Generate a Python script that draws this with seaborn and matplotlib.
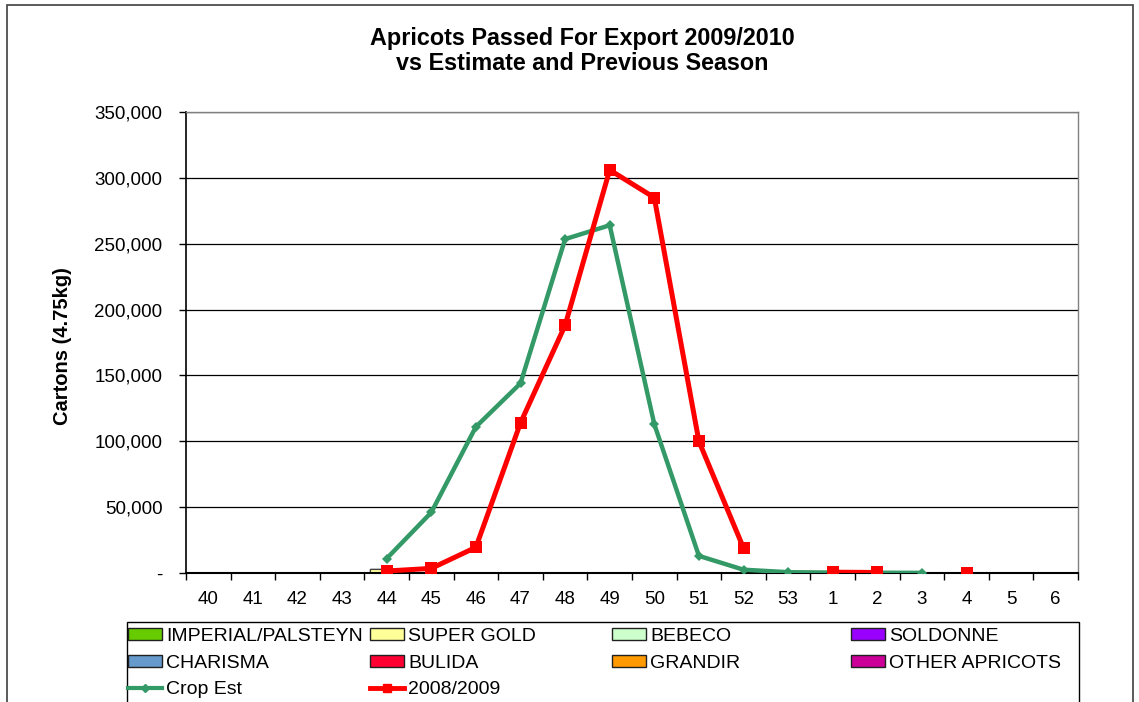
import numpy as np
import pandas as pd
import matplotlib
matplotlib.use('Agg')
import matplotlib.pyplot as plt
import seaborn as sns
from matplotlib.patches import Patch, Rectangle
from matplotlib.lines import Line2D
from matplotlib.ticker import FuncFormatter

weeks = ['40', '41', '42', '43', '44', '45', '46', '47', '48', '49',
         '50', '51', '52', '53', '1', '2', '3', '4', '5', '6']

varieties = ['IMPERIAL/PALSTEYN', 'SUPER GOLD', 'BEBECO', 'SOLDONNE',
             'CHARISMA', 'BULIDA', 'GRANDIR', 'OTHER APRICOTS']
variety_colors = ['#66CC00', '#FFFF99', '#CCFFCC', '#9900FF',
                  '#6699CC', '#FF0033', '#FF9900', '#CC0099']

zero = [0] * 20
imperial = zero
super_gold = [0, 0, 0, 0, 3000, 0, 0, 0, 0, 0, 0, 0, 0, 0, 0, 0, 0, 0, 0, 0]
bebeco = zero
soldonne = zero
charisma = zero
bulida = zero
grandir = zero
other = zero

crop_est = [np.nan, np.nan, np.nan, np.nan, 11000, 46000, 111000, 144000, 253500, 264000,
            113000, 13000, 2500, 600, 300, 200, 100, np.nan, np.nan, np.nan]
prev_season = [np.nan, np.nan, np.nan, np.nan, 1500, 3500, 19500, 114000, 188000, 306000,
               285000, 100000, 19000, np.nan, 600, 400, np.nan, 300, np.nan, np.nan]

W, H = 1139, 702
fig = plt.figure(figsize=(W / 100, H / 100), dpi=100)
plt.rcParams['font.family'] = ['Liberation Sans', 'DejaVu Sans']
ax = fig.add_axes([186 / W, 1 - 573 / H, (1078 - 186) / W, (573 - 112) / H])

# stacked bars: draw cumulative totals from the top series down
series = [imperial, super_gold, bebeco, soldonne, charisma, bulida, grandir, other]
cum = np.cumsum(np.array(series, dtype=float), axis=0)
for i in range(len(series) - 1, -1, -1):
    bar_df = pd.DataFrame({'week': weeks, 'value': cum[i]})
    sns.barplot(data=bar_df, x='week', y='value', order=weeks, color=variety_colors[i],
                saturation=1, width=0.76, edgecolor='#404040', linewidth=0.8, ax=ax, zorder=2)

# lines, split into segments where data is missing
def segments(values):
    rows = []
    seg = 0
    for i, v in enumerate(values):
        if np.isnan(v):
            seg += 1
            continue
        rows.append({'x': i, 'value': v, 'seg': seg})
    return pd.DataFrame(rows)

crop_df = segments(crop_est)
prev_df = segments(prev_season)
sns.lineplot(data=crop_df, x='x', y='value', units='seg', estimator=None, color='#339966',
             linewidth=3.2, marker='D', markersize=5, markeredgewidth=0, ax=ax, zorder=4)
sns.lineplot(data=prev_df, x='x', y='value', units='seg', estimator=None, color='#FF0000',
             linewidth=3.6, marker='s', markersize=8, markeredgewidth=0, ax=ax, zorder=5)

ax.set_xlim(-0.5, 19.5)
ax.set_ylim(0, 350000)
ax.set_yticks(np.arange(0, 350001, 50000))
ax.yaxis.set_major_formatter(FuncFormatter(lambda v, p: '-' if v == 0 else f'{v:,.0f}'))
ax.set_xticks(range(20))
ax.set_xticklabels(weeks)
ax.xaxis.set_minor_locator(matplotlib.ticker.FixedLocator(np.arange(-0.5, 20, 1)))
ax.tick_params(axis='x', which='major', length=0, pad=13, labelsize=13.5)
ax.tick_params(axis='x', which='minor', length=5, width=1, direction='out')
ax.tick_params(axis='y', length=5, width=1, direction='out', pad=12, labelsize=13.5)
ax.set_xlabel('')
ax.set_ylabel('')
ax.grid(axis='y', color='#000000', linewidth=0.9, zorder=0)
ax.set_axisbelow(True)
for side in ['top', 'right']:
    ax.spines[side].set_color('#808080')
    ax.spines[side].set_linewidth(1)
ax.spines['left'].set_linewidth(1.2)
ax.spines['bottom'].set_linewidth(1.5)

fig.text(582 / W, 1 - 51 / H, 'Apricots Passed For Export 2009/2010\nvs Estimate and Previous Season',
         ha='center', va='center', fontsize=16.8, fontweight='bold', linespacing=1.15)
fig.text(63 / W, 1 - 346 / H, 'Cartons (4.75kg)', rotation=90, ha='center', va='center',
         fontsize=14.5, fontweight='bold')

# chart border and legend box
fig.patches.append(Rectangle((7 / W, -0.05), (1133 - 7) / W, 1.05 - 5 / H, transform=fig.transFigure,
                             fill=False, edgecolor='#404040', linewidth=1.2))
fig.patches.append(Rectangle((127 / W, -0.05), (1079 - 127) / W, 0.05 + (702 - 622) / H,
                             transform=fig.transFigure, fill=False, edgecolor='#000000', linewidth=1))

handles = [Patch(facecolor=c, edgecolor='#202020', label=v) for v, c in zip(varieties, variety_colors)]
handles.append(Line2D([], [], color='#339966', linewidth=3, marker='D', markersize=4, label='Crop Est'))
handles.append(Line2D([], [], color='#FF0000', linewidth=3.5, marker='s', markersize=6, label='2008/2009'))

columns = [[handles[0], handles[4], handles[8]],
           [handles[1], handles[5], handles[9]],
           [handles[2], handles[6]],
           [handles[3], handles[7]]]
col_x = [128, 370, 612, 851]
for hs, x in zip(columns, col_x):
    fig.legend(handles=hs, loc='upper left', bbox_to_anchor=(x / W, 1 - 628 / H),
               frameon=False, fontsize=14, handlelength=1.75, handleheight=0.55,
               handletextpad=0.2, labelspacing=0.5, borderpad=0, borderaxespad=0)

plt.savefig('out.png', dpi=100)
